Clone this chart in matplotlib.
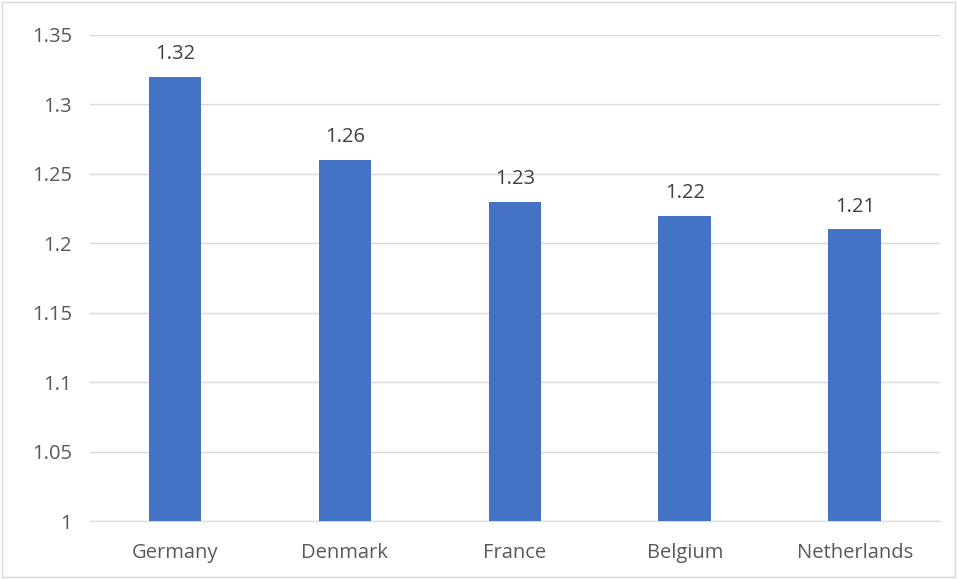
import matplotlib.pyplot as plt
import numpy as np

plt.rcParams['font.family'] = ['Open Sans', 'DejaVu Sans']

countries = ['Germany', 'Denmark', 'France', 'Belgium', 'Netherlands']
values = [1.32, 1.26, 1.23, 1.22, 1.21]
yticks = [1, 1.05, 1.1, 1.15, 1.2, 1.25, 1.3, 1.35]
ytick_labels = ['1', '1.05', '1.1', '1.15', '1.2', '1.25', '1.3', '1.35']

fig = plt.figure(figsize=(9.57, 5.79), dpi=100)
ax = fig.add_axes([0.094, 0.100, 0.888, 0.8396])

x = np.arange(len(countries))
bars = ax.bar(x, values, width=0.31, color='#4472C4', zorder=3)

ax.set_ylim(1, 1.35)
ax.set_xlim(-0.5, len(countries) - 0.5)
ax.set_yticks(yticks)
ax.set_yticklabels(ytick_labels)
ax.set_xticks(x)
ax.set_xticklabels(countries)
ax.yaxis.grid(True, color='#d9d9d9', lw=1, zorder=0)

for s in ['top', 'right', 'left']:
    ax.spines[s].set_visible(False)
ax.spines['bottom'].set_color('#d9d9d9')
ax.tick_params(axis='both', length=0, labelsize=14.5, colors='#595959')
ax.tick_params(axis='x', pad=16)
ax.tick_params(axis='y', pad=13)

for b, v in zip(bars, values):
    ax.annotate(f'{v:.2f}', (b.get_x() + b.get_width() / 2, v),
                xytext=(0, 9), textcoords='offset points',
                ha='center', va='bottom', fontsize=14.5, color='#404040')

fig.patches.append(plt.Rectangle((0.002, 0.003), 0.996, 0.994, transform=fig.transFigure,
                                 fill=False, edgecolor='#d9d9d9', lw=1))

fig.savefig('out.png', dpi=100)
